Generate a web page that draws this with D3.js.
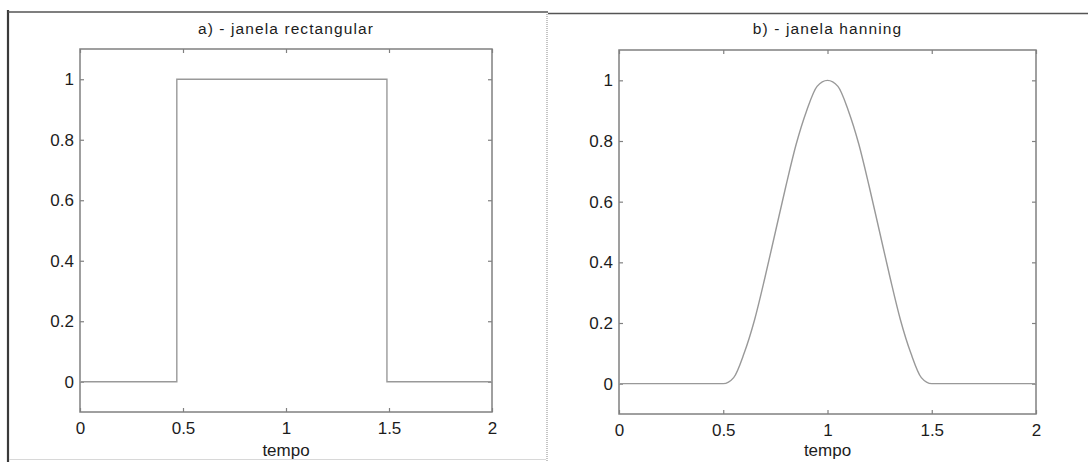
<!DOCTYPE html>
<html>
<head>
<meta charset="utf-8">
<script src="https://cdn.jsdelivr.net/npm/d3@7"></script>
<style>
  html, body { margin: 0; padding: 0; background: #fff; }
  svg { display: block; }
  text { font-family: "Liberation Sans", Arial, Helvetica, sans-serif; fill: #1c1c1c; }
</style>
</head>
<body>
<svg id="chart" width="1088" height="462"></svg>
<script>
// Window functions sampled over time (s)
const xTicks = [0, 0.5, 1, 1.5, 2];
const yTicks = [0, 0.2, 0.4, 0.6, 0.8, 1];

// a) rectangular window: step up near 0.47 s, step down near 1.49 s
const rectT = [0, 0.47, 0.47, 1.49, 1.49, 2];
const rectV = [0, 0, 1, 1, 0, 0];

// b) hanning window, read at 0.05 s steps
const hannT = [0, 0.5, 0.55, 0.6, 0.65, 0.7, 0.75, 0.8, 0.85, 0.9, 0.95, 1.0,
               1.05, 1.1, 1.15, 1.2, 1.25, 1.3, 1.35, 1.4, 1.45, 1.5, 2];
const hannV = [0, 0, 0.02, 0.10, 0.21, 0.35, 0.50, 0.65, 0.79, 0.90, 0.98, 1.0,
               0.98, 0.90, 0.79, 0.65, 0.50, 0.35, 0.21, 0.10, 0.02, 0, 0];

const titles = ["a) - janela rectangular", "b) - janela hanning"];
const xLabel = "tempo";

const svg = d3.select("#chart");

// Page frame: heavy left edge, top rule, dotted divider between panels
svg.append("line").attr("x1", 8).attr("x2", 8).attr("y1", 10).attr("y2", 462)
  .attr("stroke", "#3a3a3a").attr("stroke-width", 2.2);
svg.append("line").attr("x1", 8).attr("x2", 548).attr("y1", 12).attr("y2", 12)
  .attr("stroke", "#555").attr("stroke-width", 1.6);
svg.append("line").attr("x1", 548).attr("x2", 1088).attr("y1", 13.5).attr("y2", 13.5)
  .attr("stroke", "#555").attr("stroke-width", 1.6);
svg.append("line").attr("x1", 547).attr("x2", 547).attr("y1", 14).attr("y2", 462)
  .attr("stroke", "#c4c4c4").attr("stroke-width", 2).attr("stroke-dasharray", "1 1");
svg.append("line").attr("x1", 9).attr("x2", 546).attr("y1", 459.5).attr("y2", 459.5)
  .attr("stroke", "#d8d8d8").attr("stroke-width", 1);

const panels = [
  { left: 80, right: 492, top: 49, bottom: 412, t: rectT, v: rectV, curve: d3.curveLinear, title: titles[0] },
  { left: 619, right: 1036, top: 50, bottom: 414, t: hannT, v: hannV, curve: d3.curveMonotoneX, title: titles[1] }
];

const fmt = d3.format("~g");

panels.forEach(p => {
  const x = d3.scaleLinear().domain([0, 2]).range([p.left, p.right]);
  const y = d3.scaleLinear().domain([-0.1, 1.1]).range([p.bottom, p.top]);
  const g = svg.append("g");

  // Axis box
  g.append("rect")
    .attr("x", p.left).attr("y", p.top)
    .attr("width", p.right - p.left).attr("height", p.bottom - p.top)
    .attr("fill", "none").attr("stroke", "#808080").attr("stroke-width", 1.5);

  const styleAxis = sel => {
    sel.select(".domain").remove();
    sel.selectAll(".tick line").attr("stroke", "#808080").attr("stroke-width", 1.2);
    sel.selectAll(".tick text").attr("font-size", 17).attr("fill", "#1c1c1c");
  };

  g.append("g").attr("transform", `translate(0,${p.bottom})`)
    .call(d3.axisBottom(x).tickValues(xTicks).tickFormat(fmt).tickSizeInner(-4).tickSizeOuter(0).tickPadding(10))
    .call(styleAxis);
  g.append("g").attr("transform", `translate(0,${p.top})`)
    .call(d3.axisTop(x).tickValues(xTicks).tickFormat("").tickSizeInner(-4).tickSizeOuter(0))
    .call(styleAxis);
  g.append("g").attr("transform", `translate(${p.left},0)`)
    .call(d3.axisLeft(y).tickValues(yTicks).tickFormat(fmt).tickSizeInner(-4).tickSizeOuter(0).tickPadding(6))
    .call(styleAxis);
  g.append("g").attr("transform", `translate(${p.right},0)`)
    .call(d3.axisRight(y).tickValues(yTicks).tickFormat("").tickSizeInner(-4).tickSizeOuter(0))
    .call(styleAxis);

  // Window curve
  const line = d3.line()
    .x((d, i) => x(p.t[i]))
    .y((d, i) => y(p.v[i]))
    .curve(p.curve);
  g.append("path")
    .datum(p.v)
    .attr("d", line)
    .attr("fill", "none").attr("stroke", "#999").attr("stroke-width", 1.4);

  // Title and x label
  g.append("text")
    .attr("x", (p.left + p.right) / 2).attr("y", 34)
    .attr("text-anchor", "middle").attr("font-size", 15.5).attr("letter-spacing", 1.1)
    .text(p.title);
  g.append("text")
    .attr("x", x(1)).attr("y", 456)
    .attr("text-anchor", "middle").attr("font-size", 17)
    .text(xLabel);
});
</script>
</body>
</html>
